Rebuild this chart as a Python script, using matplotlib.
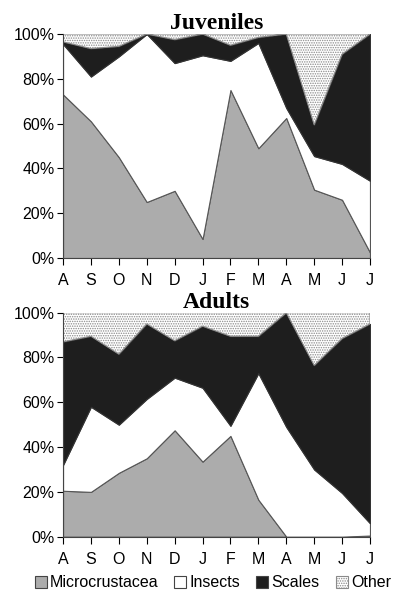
import numpy as np
import matplotlib.pyplot as plt
from matplotlib.patches import Patch
from matplotlib.ticker import PercentFormatter

plt.rcParams['font.family'] = ['Liberation Sans', 'DejaVu Sans']
plt.rcParams['hatch.linewidth'] = 0.7

months = ['A', 'S', 'O', 'N', 'D', 'J', 'F', 'M', 'A', 'M', 'J', 'J']
categories = ['Microcrustacea', 'Insects', 'Scales', 'Other']

# Juveniles (% of diet)
juv_micro = [73, 61, 45, 25, 30, 8.5, 75, 49, 62.5, 30.5, 26, 2.5]
juv_insects = [22.5, 20, 45, 75, 57, 82, 13, 47, 4.5, 15, 16, 32]
juv_scales = [1, 12.5, 4.5, 0, 10.5, 9.5, 7, 2.5, 33, 14, 49, 65.5]
juv_other = [3.5, 6.5, 5.5, 0, 2.5, 0, 5, 1.5, 0, 40.5, 9, 0]

# Adults (% of diet)
ad_micro = [20.5, 20, 28.5, 35, 47.5, 33.5, 45, 16.5, 0, 0, 0, 0.5]
ad_insects = [11.5, 38, 21.5, 26.5, 23.5, 33, 4.5, 56.5, 49, 30, 19.5, 5.5]
ad_scales = [55, 31.5, 31.5, 33.5, 16.5, 27.5, 40, 16.5, 51, 46.5, 69, 89]
ad_other = [13, 10.5, 18.5, 5, 12.5, 6, 10.5, 10.5, 0, 23.5, 11.5, 5]

colors = ['#acacac', 'white', '#1e1e1e', 'white']
hatches = [None, None, None, '.......']
edges = ['#555555', '#555555', '#333333', '#8a8a8a']

fig = plt.figure(figsize=(3.94, 5.9), dpi=100)
ax1 = fig.add_axes([0.16, 0.5627, 0.779, 0.3797])
ax2 = fig.add_axes([0.16, 0.0904, 0.779, 0.3796])

x = np.arange(len(months))

def draw(ax, layers, title):
    bottom = np.zeros(len(months))
    for vals, c, h, e in zip(layers, colors, hatches, edges):
        top = bottom + np.array(vals)
        ax.fill_between(x, bottom, top, facecolor=c, hatch=h,
                        edgecolor=e, linewidth=0.8)
        bottom = top
    ax.set_xlim(0, len(months) - 1)
    ax.set_ylim(0, 100)
    ax.set_xticks(x)
    ax.set_xticklabels(months, fontsize=11.5)
    ax.set_yticks(np.arange(0, 101, 20))
    ax.yaxis.set_major_formatter(PercentFormatter(decimals=0))
    ax.tick_params(axis='y', labelsize=11.5, length=4, width=0.8, pad=2)
    ax.tick_params(axis='x', length=5, width=0.8, pad=6)
    ax.spines['top'].set_visible(False)
    ax.spines['right'].set_visible(False)
    ax.spines['left'].set_color('#444444')
    ax.spines['bottom'].set_color('#444444')
    ax.set_title(title, fontsize=17, fontweight='bold',
                 family='Liberation Serif', pad=2)

draw(ax1, [juv_micro, juv_insects, juv_scales, juv_other], 'Juveniles')
draw(ax2, [ad_micro, ad_insects, ad_scales, ad_other], 'Adults')

handles = [Patch(facecolor=c, hatch=h, edgecolor=e if h else '#444444', linewidth=0.8)
           for c, h, e in zip(colors, hatches, edges)]
fig.legend(handles, categories, ncol=4, loc='center', bbox_to_anchor=(0.54, 0.012),
           frameon=False, fontsize=11.5, handlelength=0.75, handleheight=0.75,
           handletextpad=0.2, columnspacing=1.0, borderpad=0)

fig.savefig('out.png', dpi=100)
